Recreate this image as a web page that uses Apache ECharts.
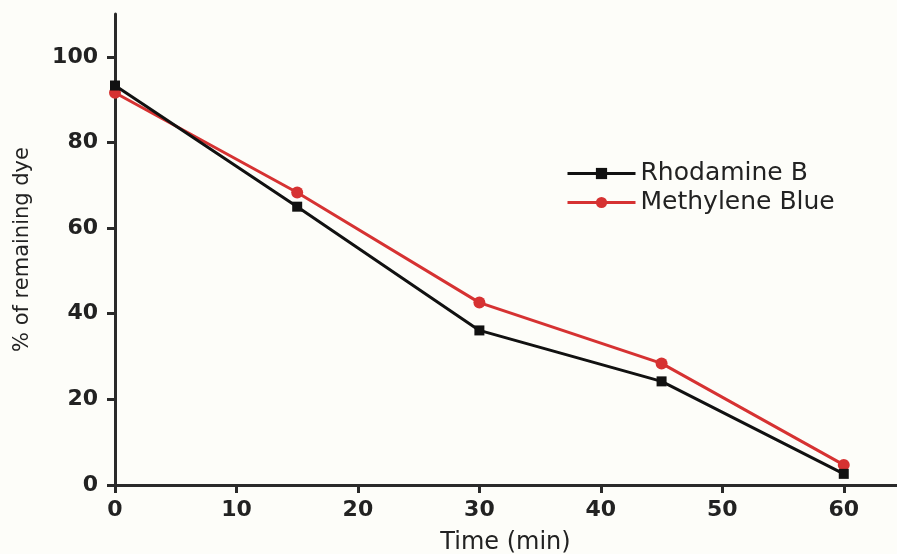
<!DOCTYPE html>
<html>
<head>
<meta charset="utf-8">
<script src="https://cdn.jsdelivr.net/npm/echarts@6/dist/echarts.min.js"></script>
<style>
  html, body { margin: 0; padding: 0; background: #fdfdf9; }
  #chart { width: 897px; height: 554px; }
</style>
</head>
<body>
<div id="chart"></div>
<script>
// time points (min)
var times = [0, 15, 30, 45, 60];
// % of remaining dye
var rhodamineB = [93.3, 65.0, 36.1, 24.2, 2.6];
var methyleneBlue = [91.6, 68.3, 42.6, 28.4, 4.7];
var xTicks = [0, 10, 20, 30, 40, 50, 60];
var yTicks = [0, 20, 40, 60, 80, 100];

function pairs(xs, ys) {
  return xs.map(function (x, i) { return [x, ys[i]]; });
}

var font = 'DejaVu Sans';
var axisColor = '#2a2a2a';
var chart = echarts.init(document.getElementById('chart'));

var option = {
  backgroundColor: '#fdfdf9',
  animation: false,
  grid: { left: 115, right: 1, top: 14, bottom: 69, outerBoundsMode: 'none', containLabel: false },
  legend: {
    orient: 'vertical',
    left: 561,
    top: 156,
    itemWidth: 68,
    itemHeight: 14,
    itemGap: 4,
    lineStyle: { width: 3 },
    textStyle: { fontFamily: font, fontSize: 25, color: '#222' },
    data: ['Rhodamine B', 'Methylene Blue']
  },
  xAxis: [{
    type: 'value',
    min: 0,
    max: 64.3,
    interval: 10,
    name: 'Time (min)',
    nameLocation: 'middle',
    nameGap: 46,
    nameTextStyle: { fontFamily: font, fontSize: 24, color: '#222' },
    axisLine: { show: true, onZero: false, lineStyle: { color: axisColor, width: 3 } },
    axisTick: { show: true, length: 8, customValues: xTicks, lineStyle: { color: axisColor, width: 3 } },
    axisLabel: { customValues: xTicks, margin: 14, fontFamily: font, fontWeight: 'bold', fontSize: 22, color: '#222' },
    splitLine: { show: false }
  }, {
    type: 'value',
    position: 'top',
    min: 0,
    max: 64.3,
    axisLine: { show: true, lineStyle: { color: axisColor, width: 3 } },
    axisTick: { show: false },
    axisLabel: { show: false },
    splitLine: { show: false }
  }],
  yAxis: {
    type: 'value',
    min: 0,
    max: 110,
    interval: 20,
    name: '% of remaining dye',
    nameLocation: 'middle',
    nameGap: 82,
    nameTextStyle: { fontFamily: font, fontSize: 21, color: '#222' },
    axisLine: { show: true, lineStyle: { color: axisColor, width: 3 } },
    axisTick: { show: true, length: 8, customValues: yTicks, lineStyle: { color: axisColor, width: 3 } },
    axisLabel: { customValues: yTicks, margin: 17, fontFamily: font, fontWeight: 'bold', fontSize: 22, color: '#222' },
    splitLine: { show: false }
  },
  series: [{
    name: 'Rhodamine B',
    type: 'line',
    data: pairs(times, rhodamineB),
    symbol: 'rect',
    symbolSize: 10,
    color: '#111',
    lineStyle: { color: '#111', width: 3 },
    itemStyle: { color: '#111' },
    z: 3
  }, {
    name: 'Methylene Blue',
    type: 'line',
    data: pairs(times, methyleneBlue),
    symbol: 'circle',
    symbolSize: 12,
    color: '#d63232',
    lineStyle: { color: '#d63232', width: 3 },
    itemStyle: { color: '#d63232' },
    z: 2
  }]
};

chart.setOption(option);
</script>
</body>
</html>
